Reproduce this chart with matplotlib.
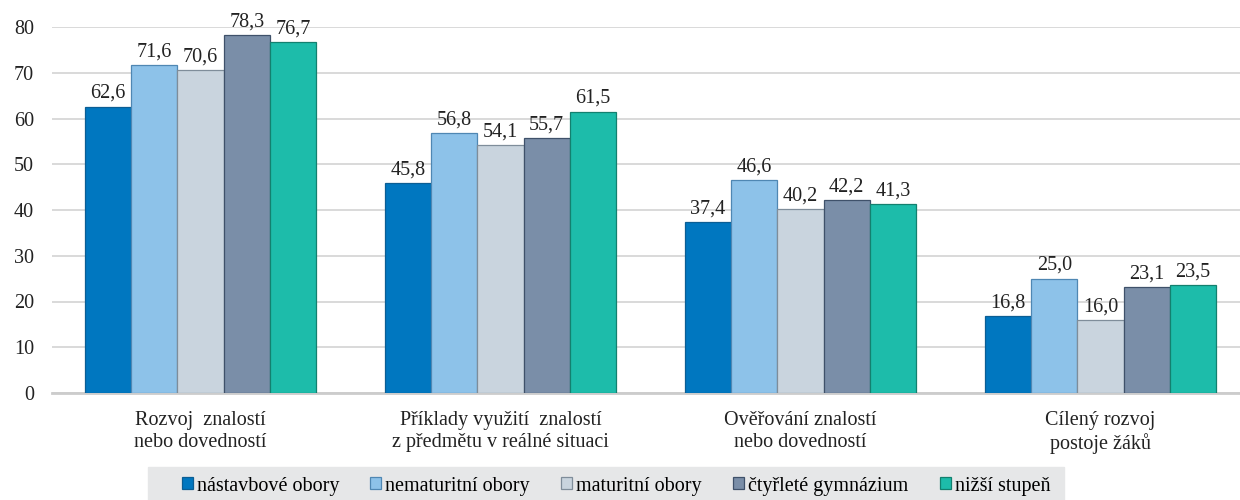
import numpy as np
import matplotlib.pyplot as plt
from matplotlib.patches import Rectangle

plt.rcParams['font.family'] = ['Liberation Serif', 'DejaVu Serif']

categories = ["Rozvoj  znalostí\nnebo dovedností",
              "Příklady využití  znalostí\nz předmětu v reálné situaci",
              "Ověřování znalostí\nnebo dovedností",
              "Cílený rozvoj\npostoje žáků"]
series = ["nástavbové obory", "nematuritní obory", "maturitní obory",
          "čtyřleté gymnázium", "nižší stupeň"]
nastavbove = [62.6, 45.8, 37.4, 16.8]
nematuritni = [71.6, 56.8, 46.6, 25.0]
maturitni = [70.6, 54.1, 40.2, 16.0]
gymnazium = [78.3, 55.7, 42.2, 23.1]
nizsi = [76.7, 61.5, 41.3, 23.5]
values = [nastavbove, nematuritni, maturitni, gymnazium, nizsi]

colors = ['#0077c0', '#8dc2e9', '#c9d4de', '#7a8ea8', '#1dbcaa']
edges = ['#0b5e94', '#4f87b3', '#7f8d9a', '#3f516a', '#13806f']
fs = 14.5

fig = plt.figure(figsize=(12.4, 5), dpi=100)
ax = fig.add_axes([52/1240, 1-393/500, 1188/1240, 366/500])

x = np.arange(len(categories))
w = 0.154
for i, (name, vals) in enumerate(zip(series, values)):
    pos = x + (i - 2) * w
    bars = ax.bar(pos, vals, width=w, color=colors[i], edgecolor=edges[i],
                  linewidth=0.9, label=name, zorder=3)
    for b, v in zip(bars, vals):
        ax.text(b.get_x() + b.get_width()/2, v + 0.8, f"{v:.1f}".replace('.', ','),
                ha='center', va='bottom', fontsize=fs, color='#222222')

ax.set_xlim(-0.495, 3.465)
ax.set_ylim(0, 80)
ax.set_yticks(range(0, 81, 10))
ax.yaxis.grid(True, color='#d9d9d9', linewidth=1.4, zorder=0)
ax.set_axisbelow(True)
for s in ['top', 'right', 'left']:
    ax.spines[s].set_visible(False)
ax.spines['bottom'].set_color('#cccccc')
ax.spines['bottom'].set_linewidth(2)
ax.set_xticks(x)
ax.set_xticklabels(categories, fontsize=fs, color='#222222', linespacing=1.22)
ax.tick_params(axis='both', length=0, labelsize=fs, colors='#222222')
ax.tick_params(axis='y', pad=13)
ax.tick_params(axis='x', pad=13)

# grey legend band
fig.patches.append(Rectangle((148/1240, 0), 916/1240, 33/500,
                             transform=fig.transFigure, color='#e6e7e8', zorder=0))
leg = fig.legend(loc='center', bbox_to_anchor=(616/1240, 14/500), ncol=5,
                 fontsize=fs, frameon=False,
                 handlelength=0.55, handleheight=0.55, handletextpad=0.2,
                 columnspacing=1.55, borderpad=0, borderaxespad=0)
for h in leg.legend_handles:
    h.set_linewidth(0.9)

fig.savefig('out.png', dpi=100)
